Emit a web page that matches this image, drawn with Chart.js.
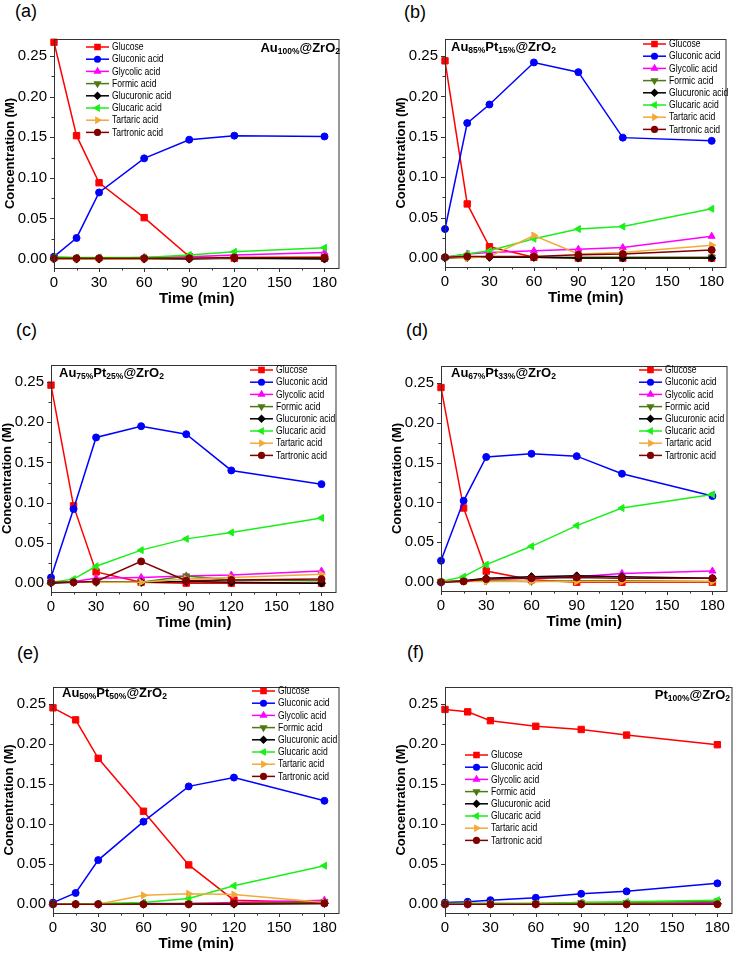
<!DOCTYPE html>
<html>
<head>
<meta charset="utf-8">
<script src="https://cdn.jsdelivr.net/npm/chart.js@4"></script>
<style>
  body { margin: 0; background: #fff; width: 738px; height: 953px; position: relative; overflow: hidden;
         font-family: "Liberation Sans", Arial, sans-serif; }
  canvas { position: absolute; }
  .tag { position: absolute; font-size: 18px; line-height: 20px; color: #000; }
  .cat { position: absolute; font-size: 13px; line-height: 16px; font-weight: bold; color: #000; white-space: nowrap; }
  .cat sub { font-size: 8.5px; vertical-align: -2px; line-height: 0; }
</style>
</head>
<body>
<script>
// time axis (min) and series names
const times = [0, 15, 30, 60, 90, 120, 180];
const seriesNames = ["Glucose", "Gluconic acid", "Glycolic acid", "Formic acid",
                     "Glucuronic acid", "Glucaric acid", "Tartaric acid", "Tartronic acid"];
const xTicks = [0, 30, 60, 90, 120, 150, 180];
const yTicks = [0, 0.05, 0.10, 0.15, 0.20, 0.25];

// (a) Au100%@ZrO2
const glucoseA    = [0.267, 0.152, 0.094, 0.051, 0.003, 0.001, 0.001];
const gluconicA   = [0.003, 0.026, 0.082, 0.124, 0.147, 0.152, 0.151];
const glycolicA   = [0.001, 0.001, 0.001, 0.002, 0.003, 0.005, 0.008];
const formicA     = [0.001, 0.000, 0.000, 0.001, 0.001, 0.001, 0.001];
const glucuronicA = [0.000, 0.000, 0.000, 0.000, 0.000, 0.001, 0.000];
const glucaricA   = [0.003, 0.002, 0.002, 0.002, 0.005, 0.009, 0.014];
const tartaricA   = [0.000, 0.000, 0.000, 0.000, 0.001, 0.002, 0.003];
const tartronicA  = [0.001, 0.001, 0.001, 0.001, 0.001, 0.002, 0.002];

// (b) Au85%Pt15%@ZrO2
const glucoseB    = [0.244, 0.067, 0.014, 0.001, 0.000, 0.000, 0.000];
const gluconicB   = [0.036, 0.167, 0.190, 0.242, 0.230, 0.149, 0.145];
const glycolicB   = [0.001, 0.005, 0.007, 0.009, 0.011, 0.013, 0.027];
const formicB     = [0.001, 0.001, 0.001, 0.001, 0.001, 0.001, 0.001];
const glucuronicB = [0.000, 0.001, 0.001, 0.001, 0.000, 0.000, 0.000];
const glucaricB   = [0.001, 0.005, 0.009, 0.024, 0.036, 0.039, 0.061];
const tartaricB   = [0.001, 0.000, 0.002, 0.028, 0.005, 0.007, 0.016];
const tartronicB  = [0.001, 0.002, 0.002, 0.002, 0.004, 0.005, 0.010];

// (c) Au75%Pt25%@ZrO2
const glucoseC    = [0.246, 0.096, 0.014, 0.001, 0.000, 0.000, 0.000];
const gluconicC   = [0.007, 0.092, 0.181, 0.195, 0.185, 0.140, 0.123];
const glycolicC   = [0.001, 0.002, 0.006, 0.007, 0.009, 0.010, 0.015];
const formicC     = [0.001, 0.001, 0.002, 0.001, 0.009, 0.004, 0.003];
const glucuronicC = [0.000, 0.001, 0.001, 0.001, 0.002, 0.001, 0.000];
const glucaricC   = [0.001, 0.005, 0.021, 0.041, 0.055, 0.063, 0.081];
const tartaricC   = [0.001, 0.001, 0.001, 0.001, 0.005, 0.007, 0.011];
const tartronicC  = [0.001, 0.001, 0.002, 0.027, 0.003, 0.004, 0.005];

// (d) Au67%Pt33%@ZrO2
const glucoseD    = [0.244, 0.093, 0.014, 0.003, 0.000, 0.000, 0.000];
const gluconicD   = [0.027, 0.102, 0.157, 0.161, 0.158, 0.136, 0.108];
const glycolicD   = [0.000, 0.002, 0.004, 0.005, 0.007, 0.011, 0.014];
const formicD     = [0.001, 0.002, 0.002, 0.001, 0.002, 0.002, 0.001];
const glucuronicD = [0.000, 0.002, 0.005, 0.007, 0.008, 0.007, 0.005];
const glucaricD   = [0.001, 0.007, 0.022, 0.045, 0.071, 0.093, 0.110];
const tartaricD   = [0.001, 0.001, 0.001, 0.001, 0.001, 0.001, 0.001];
const tartronicD  = [0.000, 0.001, 0.004, 0.005, 0.006, 0.005, 0.005];

// (e) Au50%Pt50%@ZrO2
const glucoseE    = [0.245, 0.230, 0.182, 0.116, 0.049, 0.005, 0.002];
const gluconicE   = [0.002, 0.014, 0.055, 0.103, 0.147, 0.158, 0.129];
const glycolicE   = [0.000, 0.000, 0.000, 0.001, 0.001, 0.002, 0.005];
const formicE     = [0.000, 0.000, 0.000, 0.000, 0.001, 0.001, 0.003];
const glucuronicE = [0.000, 0.000, 0.000, 0.000, 0.000, 0.000, 0.001];
const glucaricE   = [0.000, 0.000, 0.001, 0.002, 0.007, 0.023, 0.048];
const tartaricE   = [0.000, 0.000, 0.000, 0.011, 0.013, 0.012, 0.002];
const tartronicE  = [0.000, 0.000, 0.000, 0.000, 0.000, 0.001, 0.001];

// (f) Pt100%@ZrO2
const glucoseF    = [0.243, 0.240, 0.229, 0.222, 0.218, 0.211, 0.199];
const gluconicF   = [0.002, 0.003, 0.005, 0.008, 0.013, 0.016, 0.026];
const glycolicF   = [0.000, 0.000, 0.000, 0.000, 0.001, 0.001, 0.002];
const formicF     = [0.001, 0.001, 0.001, 0.001, 0.002, 0.002, 0.004];
const glucuronicF = [0.000, 0.000, 0.000, 0.000, 0.000, 0.000, 0.001];
const glucaricF   = [0.001, 0.001, 0.001, 0.001, 0.002, 0.003, 0.005];
const tartaricF   = [0.000, 0.000, 0.000, 0.000, 0.000, 0.000, 0.000];
const tartronicF  = [0.000, 0.000, 0.000, 0.000, 0.000, 0.000, 0.000];

// marker/colour per series, same order as seriesNames
const seriesStyle = [
  { color: "#ff0000", point: "rect",     rot: 0,   r: 4.5 },
  { color: "#0000ff", point: "circle",   rot: 0,   r: 3.5 },
  { color: "#ff00ff", point: "triangle", rot: 0,   r: 4 },
  { color: "#4f7a12", point: "triangle", rot: 180, r: 4 },
  { color: "#000000", point: "rectRot",  rot: 0,   r: 4 },
  { color: "#18f018", point: "triangle", rot: 270, r: 4 },
  { color: "#f2aa38", point: "triangle", rot: 90,  r: 4 },
  { color: "#800000", point: "circle",   rot: 0,   r: 3.5 }
];

// page layout: plot box [left, top, right, bottom], legend origin, label positions
const panels = [
  { tag: "(a)", tagPos: [15, 1],  plot: [54, 33, 343, 268],   legend: [86, 47],
    cat: ["Au", "100%", "", "", "@ZrO", "2"], catPos: { right: 398, top: 40 },
    values: [glucoseA, gluconicA, glycolicA, formicA, glucuronicA, glucaricA, tartaricA, tartronicA] },
  { tag: "(b)", tagPos: [404, 2], plot: [445, 33, 730, 267],  legend: [643, 44],
    cat: ["Au", "85%", "Pt", "15%", "@ZrO", "2"], catPos: { left: 451, top: 39 },
    values: [glucoseB, gluconicB, glycolicB, formicB, glucuronicB, glucaricB, tartaricB, tartronicB] },
  { tag: "(c)", tagPos: [16, 320], plot: [51, 359, 340, 592], legend: [250, 370],
    cat: ["Au", "75%", "Pt", "25%", "@ZrO", "2"], catPos: { left: 59, top: 365 },
    values: [glucoseC, gluconicC, glycolicC, formicC, glucuronicC, glucaricC, tartaricC, tartronicC] },
  { tag: "(d)", tagPos: [406, 320], plot: [441, 360, 731, 591], legend: [639, 370],
    cat: ["Au", "67%", "Pt", "33%", "@ZrO", "2"], catPos: { left: 451, top: 365 },
    values: [glucoseD, gluconicD, glycolicD, formicD, glucuronicD, glucaricD, tartaricD, tartronicD] },
  { tag: "(e)", tagPos: [17, 643], plot: [53, 681, 343, 913], legend: [252, 691],
    cat: ["Au", "50%", "Pt", "50%", "@ZrO", "2"], catPos: { left: 62, top: 685 },
    values: [glucoseE, gluconicE, glycolicE, formicE, glucuronicE, glucaricE, tartaricE, tartronicE] },
  { tag: "(f)", tagPos: [407, 642], plot: [445, 681, 736, 913], legend: [465, 755],
    cat: ["Pt", "100%", "", "", "@ZrO", "2"], catPos: { right: 8, top: 687 },
    values: [glucoseF, gluconicF, glycolicF, formicF, glucuronicF, glucaricF, tartaricF, tartronicF] }
];

const Y_AXIS_W = 54, X_AXIS_H = 42, PAD_TOP = 10, PAD_RIGHT = 2;

// frame plus outward major/minor ticks
const frameTicks = {
  id: "frameTicks",
  afterDraw(chart) {
    const { ctx, chartArea: a, scales: { x, y } } = chart;
    ctx.save();
    ctx.strokeStyle = "#333";
    ctx.lineWidth = 1;
    ctx.strokeRect(a.left + 0.5, a.top + 0.5, a.right - a.left - 1, a.bottom - a.top);
    ctx.beginPath();
    xTicks.forEach((v, i) => {
      const px = Math.round(x.getPixelForValue(v)) + 0.5;
      ctx.moveTo(px, a.bottom); ctx.lineTo(px, a.bottom + 4);
      if (i < xTicks.length - 1) {
        const pm = Math.round(x.getPixelForValue((v + xTicks[i + 1]) / 2)) + 0.5;
        ctx.moveTo(pm, a.bottom); ctx.lineTo(pm, a.bottom + 2.5);
      }
    });
    yTicks.forEach((v, i) => {
      const py = Math.round(y.getPixelForValue(v)) + 0.5;
      ctx.moveTo(a.left, py); ctx.lineTo(a.left - 4, py);
      const next = i < yTicks.length - 1 ? yTicks[i + 1] : v + (v - yTicks[i - 1]);
      const mid = (v + next) / 2;
      if (mid < y.max) {
        const pm = Math.round(y.getPixelForValue(mid)) + 0.5;
        ctx.moveTo(a.left, pm); ctx.lineTo(a.left - 2.5, pm);
      }
    });
    ctx.stroke();
    ctx.restore();
  }
};

// Origin-style legend: short line with the marker in the middle
const lineLegend = {
  id: "lineLegend",
  afterDraw(chart, args, opts) {
    const ctx = chart.ctx;
    ctx.save();
    ctx.font = "10px 'Liberation Sans', Arial, sans-serif";
    ctx.textBaseline = "middle";
    chart.data.datasets.forEach((ds, i) => {
      const y = opts.y + i * 12.2;
      ctx.strokeStyle = ds.borderColor;
      ctx.fillStyle = ds.borderColor;
      ctx.lineWidth = 1.5;
      ctx.beginPath();
      ctx.moveTo(opts.x, y); ctx.lineTo(opts.x + 23, y);
      ctx.stroke();
      Chart.helpers.drawPoint(ctx, { pointStyle: ds.pointStyle, rotation: ds.pointRotation,
        radius: ds.pointRadius * 0.8, borderWidth: 1 }, opts.x + 11.5, y);
      // the source uses a slightly condensed face
      ctx.save();
      ctx.translate(opts.x + 26, y + 0.5);
      ctx.scale(0.86, 1);
      ctx.fillStyle = "#000";
      ctx.fillText(ds.label, 0, 0);
      ctx.restore();
    });
    ctx.restore();
  }
};

document.addEventListener("DOMContentLoaded", () => {
  panels.forEach(p => {
    const [L, T, R, B] = p.plot;
    const left = L - Y_AXIS_W, top = T - PAD_TOP;
    const w = R - L + Y_AXIS_W + PAD_RIGHT, h = B - T + PAD_TOP + X_AXIS_H;

    const tag = document.createElement("div");
    tag.className = "tag";
    tag.style.left = p.tagPos[0] + "px";
    tag.style.top = p.tagPos[1] + "px";
    tag.textContent = p.tag;
    document.body.appendChild(tag);

    const canvas = document.createElement("canvas");
    canvas.width = w; canvas.height = h;
    canvas.style.left = left + "px"; canvas.style.top = top + "px";
    canvas.style.width = w + "px"; canvas.style.height = h + "px";
    document.body.appendChild(canvas);

    const cat = document.createElement("div");
    cat.className = "cat";
    Object.entries(p.catPos).forEach(([k, v]) => { cat.style[k] = v + "px"; });
    const c = p.cat;
    cat.innerHTML = c[0] + "<sub>" + c[1] + "</sub>" + c[2] + (c[3] ? "<sub>" + c[3] + "</sub>" : "") +
                    c[4] + "<sub>" + c[5] + "</sub>";
    document.body.appendChild(cat);

    const datasets = p.values.map((vals, i) => {
      const s = seriesStyle[i];
      return {
        label: seriesNames[i],
        data: times.map((t, k) => ({ x: t, y: vals[k] })),
        borderColor: s.color,
        backgroundColor: s.color,
        borderWidth: 1.5,
        pointStyle: s.point,
        pointRotation: s.rot,
        pointRadius: s.r,
        pointBorderWidth: 1,
        pointBackgroundColor: s.color,
        pointBorderColor: s.color,
        order: p.values.length - i,
        clip: false
      };
    });

    new Chart(canvas.getContext("2d"), {
      type: "line",
      data: { datasets },
      options: {
        responsive: false,
        animation: false,
        layout: { padding: { left: 0, top: PAD_TOP, right: PAD_RIGHT, bottom: 0 } },
        plugins: {
          legend: { display: false },
          tooltip: { enabled: false },
          lineLegend: { x: p.legend[0] - left, y: p.legend[1] - top }
        },
        scales: {
          x: {
            type: "linear", min: 0, max: 190,
            afterBuildTicks: s => { s.ticks = xTicks.map(v => ({ value: v })); },
            afterFit: s => { s.height = X_AXIS_H; },
            grid: { display: false, drawTicks: false },
            border: { display: false },
            ticks: { autoSkip: false, maxRotation: 0, padding: 6, color: "#000",
                     font: { size: 15, family: "'Liberation Sans', Arial, sans-serif" } },
            title: { display: true, text: "Time (min)", color: "#000", padding: { top: 0, bottom: 2 },
                     font: { size: 15, weight: "bold", family: "'Liberation Sans', Arial, sans-serif" } }
          },
          y: {
            min: -0.011, max: 0.271,
            afterBuildTicks: s => { s.ticks = yTicks.map(v => ({ value: v })); },
            afterFit: s => { s.width = Y_AXIS_W; },
            grid: { display: false, drawTicks: false },
            border: { display: false },
            ticks: { autoSkip: false, padding: 7, color: "#000", callback: v => v.toFixed(2),
                     font: { size: 15, family: "'Liberation Sans', Arial, sans-serif" } },
            title: { display: true, text: "Concentration (M)", color: "#000", padding: { top: 3, bottom: 2 },
                     font: { size: 13, weight: "bold", family: "'Liberation Sans', Arial, sans-serif" } }
          }
        }
      },
      plugins: [frameTicks, lineLegend]
    });
  });
});
</script>
</body>
</html>
